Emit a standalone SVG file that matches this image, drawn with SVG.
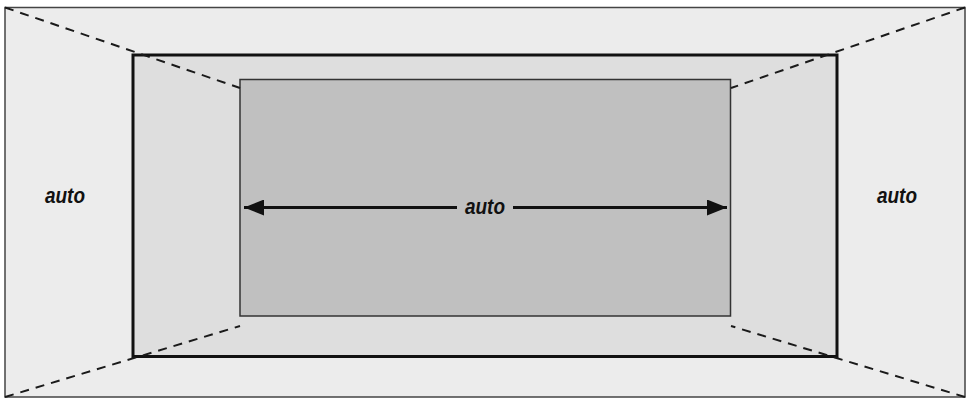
<svg xmlns="http://www.w3.org/2000/svg" width="972" height="405" viewBox="0 0 972 405">
<style>
.lbl{font-family:"Liberation Sans Narrow","Liberation Sans",Arial,sans-serif;font-weight:bold;font-style:italic;font-size:22px;fill:#111;text-anchor:middle}
.dash{stroke:#1a1a1a;stroke-width:2;stroke-dasharray:9,7;fill:none}
</style>
<defs>
<marker id="ah" viewBox="0 0 20 16" refX="20" refY="8" markerWidth="20" markerHeight="16" markerUnits="userSpaceOnUse" orient="auto-start-reverse">
<path d="M0,0 L20,8 L0,16 Z" fill="#111"/>
</marker>
</defs>
<rect width="972" height="405" fill="#ffffff"/>
<g id="outer">
<rect x="5" y="7.5" width="960" height="389.5" fill="#ececec" stroke="#444" stroke-width="1.5"/>
<text class="lbl" x="65" y="203" textLength="40" lengthAdjust="spacingAndGlyphs">auto</text>
<text class="lbl" x="897" y="203" textLength="40" lengthAdjust="spacingAndGlyphs">auto</text>
</g>
<g id="middle">
<rect x="133" y="55" width="704" height="301.5" fill="#dedede" stroke="#111" stroke-width="3"/>
</g>
<g id="inner">
<rect x="240" y="79.5" width="490.5" height="236.5" fill="#c0c0c0" stroke="#333" stroke-width="1.5"/>
</g>
<g id="connectors">
<line class="dash" x1="5" y1="7.5" x2="240" y2="88"/>
<line class="dash" x1="965" y1="7.5" x2="731" y2="88"/>
<line class="dash" x1="5" y1="397" x2="240" y2="326"/>
<line class="dash" x1="965" y1="397" x2="731" y2="326"/>
<line x1="457" y1="207.5" x2="244" y2="207.5" stroke="#111" stroke-width="3" marker-end="url(#ah)"/>
<line x1="513" y1="207.5" x2="727" y2="207.5" stroke="#111" stroke-width="3" marker-end="url(#ah)"/>
<text class="lbl" x="485" y="214" textLength="40" lengthAdjust="spacingAndGlyphs">auto</text>
</g>
</svg>
